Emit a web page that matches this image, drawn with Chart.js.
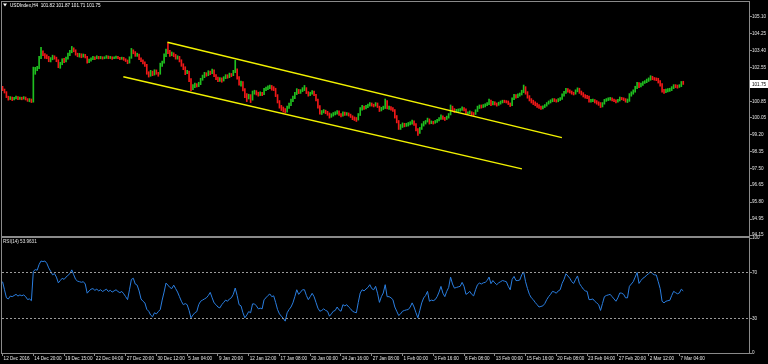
<!DOCTYPE html>
<html>
<head>
<meta charset="utf-8">
<script src="https://cdn.jsdelivr.net/npm/chart.js@4/dist/chart.umd.min.js"></script>
<style>
  html, body { margin: 0; padding: 0; background: #000; width: 768px; height: 364px; overflow: hidden; }
  #priceChart { position: absolute; left: 0; top: 0; }
  #rsiChart { position: absolute; left: 0; top: 229px; }
</style>
</head>
<body>
<canvas id="priceChart" width="768" height="240"></canvas>
<canvas id="rsiChart" width="768" height="135"></canvas>
<script>
// USDIndex H4, one entry per bar, bar 0 = 12 Dec 2016
const timeLabels = ["12 Dec 2016", "14 Dec 20:00", "19 Dec 15:00", "22 Dec 04:00", "27 Dec 20:00", "30 Dec 12:00",
  "5 Jan 04:00", "9 Jan 20:00", "12 Jan 12:00", "17 Jan 08:00", "20 Jan 00:00", "24 Jan 16:00", "27 Jan 08:00",
  "1 Feb 00:00", "3 Feb 16:00", "8 Feb 08:00", "13 Feb 00:00", "15 Feb 16:00", "20 Feb 08:00", "23 Feb 04:00",
  "27 Feb 20:00", "2 Mar 12:00", "7 Mar 04:00"];
const barsPerLabel = 16;
const priceTicks = [105.10, 104.25, 103.40, 102.55, 100.85, 100.05, 99.20, 98.35, 97.50, 96.65, 95.80, 94.95, 94.15];
const rsiTicks = [100, 70, 30, 0];
const rsiLevels = [70, 30];

const firstOpen = 101.58;
const closes = [
  101.45, 101.32, 101.10, 100.98, 101.05, 100.96, 101.02, 101.08, 100.99, 101.04,
  101.00, 101.06, 100.97, 100.92, 100.95, 100.85, 102.30, 102.45, 102.55, 103.05,
  103.35, 103.22, 103.15, 103.08, 102.92, 102.98, 103.12, 103.05, 102.90, 102.62,
  102.75, 102.95, 102.88, 103.00, 103.20, 103.35, 103.50, 103.42, 103.22, 103.15,
  103.20, 103.12, 103.18, 103.10, 102.85, 102.92, 103.00, 103.08, 103.02, 103.10,
  103.05, 103.08, 103.03, 103.06, 103.12, 103.05, 103.08, 103.02, 103.06, 103.10,
  103.04, 103.00, 103.05, 102.98, 102.90, 102.80, 103.05, 103.40, 103.32, 103.18,
  103.22, 103.02, 102.92, 102.80, 102.70, 102.30, 102.18, 102.35, 102.22, 102.40,
  102.28, 102.25, 102.70, 102.82, 103.15, 103.40, 103.35, 103.20, 103.28, 103.18,
  103.05, 103.10, 102.90, 102.70, 102.55, 102.30, 102.35, 101.95, 101.50, 101.62,
  101.70, 101.65, 101.75, 101.95, 102.10, 102.25, 102.20, 102.35, 102.28, 102.42,
  102.15, 102.05, 101.92, 102.00, 101.90, 102.05, 102.15, 102.10, 102.22, 102.18,
  102.35, 102.45, 102.05, 101.75, 101.80, 101.45, 101.20, 101.05, 101.15, 100.95,
  101.30, 101.35, 101.25, 101.20, 101.28, 101.22, 101.45, 101.50, 101.58, 101.62,
  101.52, 101.50, 101.15, 100.85, 100.60, 100.50, 100.40, 100.35, 100.55, 100.70,
  100.90, 101.05, 101.25, 101.42, 101.30, 101.38, 101.48, 101.50, 101.30, 101.20,
  101.28, 101.35, 101.20, 100.95, 100.60, 100.30, 100.32, 100.38, 100.30, 100.25,
  100.10, 100.18, 100.25, 100.28, 100.35, 100.22, 100.15, 100.28, 100.22, 100.25,
  100.18, 100.10, 100.02, 99.98, 99.95, 100.20, 100.48, 100.58, 100.52, 100.60,
  100.65, 100.75, 100.68, 100.65, 100.75, 100.60, 100.40, 100.50, 100.55, 100.85,
  100.55, 100.55, 100.50, 100.42, 100.10, 99.85, 99.55, 99.62, 99.70, 99.68,
  99.70, 99.72, 99.78, 99.85, 99.72, 99.45, 99.28, 99.48, 99.68, 99.78,
  99.85, 99.95, 99.78, 99.82, 99.80, 99.84, 99.90, 100.00, 100.12, 100.02,
  99.98, 100.08, 100.20, 100.58, 100.45, 100.38, 100.40, 100.42, 100.44, 100.52,
  100.45, 100.25, 100.28, 100.32, 100.25, 100.22, 100.38, 100.55, 100.62, 100.60,
  100.65, 100.68, 100.75, 100.90, 100.72, 100.80, 100.74, 100.70, 100.76, 100.82,
  100.88, 100.86, 100.84, 100.75, 100.68, 100.98, 101.15, 101.10, 101.18, 101.22,
  101.35, 101.55, 101.30, 101.10, 100.95, 100.85, 100.80, 100.72, 100.65, 100.58,
  100.55, 100.58, 100.65, 100.75, 100.82, 100.88, 100.95, 100.92, 100.88, 100.95,
  101.00, 101.18, 101.30, 101.45, 101.40, 101.35, 101.28, 101.25, 101.38, 101.48,
  101.32, 101.25, 101.15, 101.10, 101.08, 100.88, 100.90, 100.92, 100.85, 100.80,
  100.75, 100.62, 100.75, 100.90, 100.95, 100.98, 101.00, 100.95, 100.90, 100.85,
  100.92, 101.02, 101.00, 100.98, 100.90, 100.90, 101.18, 101.28, 101.38, 101.55,
  101.75, 101.60, 101.72, 101.80, 101.85, 101.92, 101.98, 102.08, 102.02, 102.00,
  101.98, 101.85, 101.70, 101.40, 101.35, 101.40, 101.42, 101.44, 101.55, 101.65,
  101.62, 101.60, 101.64, 101.82, 101.75
];
const highs = [
  101.62, 101.48, 101.35, 101.12, 101.10, 101.08, 101.06, 101.12, 101.10, 101.08,
  101.07, 101.10, 101.08, 101.00, 101.00, 100.98, 102.58, 102.57, 102.62, 103.12,
  103.58, 103.40, 103.26, 103.20, 103.12, 103.06, 103.18, 103.15, 103.08, 102.95,
  102.82, 103.00, 103.02, 103.08, 103.28, 103.42, 103.62, 103.55, 103.45, 103.28,
  103.27, 103.25, 103.24, 103.22, 103.12, 102.98, 103.05, 103.12, 103.10, 103.15,
  103.12, 103.12, 103.10, 103.10, 103.16, 103.14, 103.12, 103.10, 103.10, 103.14,
  103.12, 103.07, 103.08, 103.07, 103.00, 102.94, 103.10, 103.52, 103.45, 103.36,
  103.28, 103.24, 103.05, 102.95, 102.84, 102.72, 102.35, 102.42, 102.38, 102.45,
  102.44, 102.32, 102.78, 102.88, 103.25, 103.48, 103.78, 103.42, 103.34, 103.30,
  103.22, 103.15, 103.12, 102.95, 102.75, 102.60, 102.42, 102.38, 102.00, 101.70,
  101.78, 101.75, 101.82, 102.02, 102.18, 102.32, 102.30, 102.40, 102.38, 102.48,
  102.45, 102.20, 102.08, 102.05, 102.04, 102.10, 102.20, 102.20, 102.28, 102.26,
  102.42, 102.92, 102.50, 102.10, 101.88, 101.85, 101.50, 101.25, 101.22, 101.20,
  101.38, 101.42, 101.40, 101.32, 101.34, 101.32, 101.52, 101.58, 101.64, 101.68,
  101.66, 101.60, 101.52, 101.20, 100.90, 100.66, 100.58, 100.50, 100.62, 100.78,
  100.98, 101.12, 101.32, 101.50, 101.46, 101.45, 101.55, 101.66, 101.55, 101.35,
  101.32, 101.40, 101.38, 101.22, 100.98, 100.65, 100.40, 100.45, 100.42, 100.36,
  100.28, 100.24, 100.30, 100.34, 100.40, 100.38, 100.25, 100.34, 100.32, 100.30,
  100.28, 100.22, 100.14, 100.08, 100.05, 100.25, 100.55, 100.66, 100.62, 100.66,
  100.72, 100.80, 100.78, 100.72, 100.80, 100.78, 100.62, 100.56, 100.62, 100.98,
  100.90, 100.62, 100.60, 100.55, 100.45, 100.15, 99.90, 99.70, 99.78, 99.76,
  99.76, 99.80, 99.84, 99.92, 99.88, 99.75, 99.50, 99.55, 99.74, 99.85,
  99.90, 100.02, 99.98, 99.88, 99.86, 99.90, 99.96, 100.05, 100.18, 100.14,
  100.06, 100.12, 100.25, 100.68, 100.62, 100.50, 100.46, 100.48, 100.50, 100.58,
  100.55, 100.48, 100.34, 100.38, 100.34, 100.30, 100.44, 100.62, 100.68, 100.68,
  100.70, 100.74, 100.80, 100.98, 100.92, 100.86, 100.84, 100.78, 100.82, 100.88,
  100.92, 100.92, 100.90, 100.88, 100.78, 101.04, 101.22, 101.20, 101.24, 101.28,
  101.42, 101.68, 101.60, 101.35, 101.15, 101.00, 100.92, 100.84, 100.78, 100.70,
  100.62, 100.64, 100.70, 100.80, 100.88, 100.94, 101.00, 101.00, 100.95, 101.00,
  101.05, 101.24, 101.36, 101.52, 101.50, 101.44, 101.38, 101.32, 101.44, 101.54,
  101.52, 101.38, 101.30, 101.20, 101.16, 101.12, 100.96, 100.98, 100.95, 100.90,
  100.84, 100.80, 100.80, 100.96, 101.00, 101.04, 101.06, 101.04, 100.98, 100.94,
  100.96, 101.08, 101.06, 101.04, 101.00, 100.98, 101.25, 101.34, 101.44, 101.62,
  101.82, 101.80, 101.78, 101.86, 101.90, 101.98, 102.04, 102.15, 102.12, 102.06,
  102.04, 102.02, 101.90, 101.75, 101.46, 101.48, 101.50, 101.52, 101.60, 101.70,
  101.70, 101.68, 101.70, 101.86, 101.87
];
const lows = [
  101.40, 101.28, 101.05, 100.92, 100.95, 100.90, 100.93, 100.98, 100.95, 100.96,
  100.94, 100.97, 100.93, 100.86, 100.84, 100.80, 100.82, 102.22, 102.40, 102.50,
  103.00, 103.15, 103.02, 103.00, 102.85, 102.84, 102.95, 102.98, 102.85, 102.55,
  102.52, 102.70, 102.80, 102.84, 102.98, 103.15, 103.30, 103.35, 103.18, 103.10,
  103.08, 103.05, 103.08, 103.04, 102.78, 102.80, 102.88, 102.95, 102.96, 103.00,
  102.99, 103.00, 102.98, 103.00, 103.02, 103.00, 103.01, 102.97, 103.00, 103.02,
  103.00, 102.95, 102.97, 102.92, 102.86, 102.75, 102.78, 103.02, 103.25, 103.12,
  103.12, 102.95, 102.85, 102.74, 102.62, 102.22, 102.08, 102.12, 102.15, 102.18,
  102.22, 102.12, 102.22, 102.62, 102.78, 103.10, 103.25, 103.12, 103.15, 103.10,
  102.98, 102.98, 102.84, 102.62, 102.45, 102.20, 102.25, 101.85, 101.40, 101.45,
  101.55, 101.58, 101.60, 101.70, 101.92, 102.05, 102.12, 102.15, 102.20, 102.25,
  102.10, 101.95, 101.85, 101.86, 101.82, 101.88, 102.00, 102.02, 102.05, 102.10,
  102.15, 102.30, 101.98, 101.68, 101.62, 101.38, 101.05, 100.85, 100.98, 100.80,
  100.92, 101.22, 101.18, 101.12, 101.15, 101.15, 101.20, 101.40, 101.45, 101.50,
  101.42, 101.40, 101.10, 100.78, 100.52, 100.40, 100.32, 100.28, 100.32, 100.50,
  100.65, 100.85, 101.00, 101.20, 101.25, 101.26, 101.35, 101.40, 101.25, 101.12,
  101.15, 101.22, 101.15, 100.88, 100.52, 100.22, 100.20, 100.28, 100.24, 100.16,
  100.02, 100.06, 100.12, 100.18, 100.22, 100.15, 100.08, 100.12, 100.15, 100.16,
  100.12, 100.05, 99.94, 99.90, 99.85, 99.92, 100.15, 100.42, 100.45, 100.48,
  100.55, 100.62, 100.62, 100.58, 100.62, 100.55, 100.35, 100.38, 100.45, 100.50,
  100.48, 100.45, 100.42, 100.35, 100.02, 99.78, 99.45, 99.45, 99.55, 99.58,
  99.60, 99.62, 99.68, 99.72, 99.65, 99.38, 99.15, 99.25, 99.45, 99.62,
  99.72, 99.82, 99.72, 99.74, 99.72, 99.76, 99.80, 99.88, 99.95, 99.95,
  99.90, 99.95, 100.02, 100.18, 100.38, 100.30, 100.32, 100.35, 100.36, 100.40,
  100.38, 100.20, 100.20, 100.24, 100.18, 100.15, 100.20, 100.35, 100.50, 100.52,
  100.55, 100.58, 100.64, 100.70, 100.65, 100.68, 100.68, 100.62, 100.66, 100.72,
  100.78, 100.80, 100.78, 100.70, 100.60, 100.65, 100.95, 101.02, 101.05, 101.12,
  101.18, 101.30, 101.22, 101.02, 100.88, 100.78, 100.70, 100.64, 100.56, 100.50,
  100.45, 100.48, 100.55, 100.62, 100.72, 100.78, 100.84, 100.85, 100.82, 100.84,
  100.90, 100.96, 101.12, 101.26, 101.32, 101.28, 101.22, 101.18, 101.22, 101.34,
  101.26, 101.18, 101.08, 101.02, 101.00, 100.82, 100.82, 100.85, 100.78, 100.72,
  100.66, 100.55, 100.58, 100.72, 100.86, 100.90, 100.92, 100.88, 100.84, 100.78,
  100.82, 100.88, 100.94, 100.90, 100.82, 100.80, 100.86, 101.12, 101.22, 101.32,
  101.50, 101.55, 101.58, 101.66, 101.76, 101.80, 101.86, 101.92, 101.95, 101.92,
  101.90, 101.78, 101.62, 101.32, 101.26, 101.30, 101.34, 101.36, 101.40, 101.50,
  101.55, 101.52, 101.56, 101.60, 101.71
];
const rsi = [
  62, 55, 48, 47, 49.5, 49, 50, 51, 49.5, 50.5,
  49.8, 50.5, 49, 46.5, 47, 45.5, 71, 72.5, 72, 77,
  80, 79.5, 80, 78, 74, 71, 68, 69, 66, 61,
  63, 65, 64, 66, 67.5, 69, 72.3, 68, 64, 62.5,
  62, 61.5, 62, 60, 52, 54, 55.5, 56, 54.5, 55.5,
  54, 55, 53.5, 54.5, 55.5, 53.5, 54.5, 53, 54, 55,
  53.5, 52.5, 53.5, 51.5, 49, 46.4, 55, 64, 65, 60,
  59, 54, 47, 45, 43.6, 38, 36.3, 33, 31.5, 35,
  34, 36, 37.8, 46, 53, 60.8, 59, 57, 56, 59,
  56, 53, 49, 45, 42, 43, 42, 37, 30.6, 33,
  35, 36, 42, 45, 46, 47, 48, 50, 52.7, 48,
  43.6, 42, 40, 39.2, 42, 44, 46, 45, 47, 48,
  51, 56.5, 50, 42, 41, 35, 30.6, 33, 36, 35,
  42.7, 42.7, 41, 38.4, 39, 38.4, 46.4, 48, 50, 51.3,
  49, 49.7, 44, 37.8, 34, 32, 30, 27.7, 35, 37.8,
  40, 43.6, 49, 55, 51, 53, 55, 55, 50, 46.4,
  49, 51.9, 49, 44, 39, 36.3, 37, 38.4, 37, 36.3,
  32, 34, 36.3, 37, 40, 37.5, 36.3, 42, 41, 42,
  40, 38.4, 36.3, 35.5, 35, 44, 52.2, 55, 54, 55.6,
  57, 59.4, 56, 55, 58, 52, 44, 49, 52.2, 59.4,
  49, 49, 48, 46.4, 40, 36.3, 32.6, 34, 36.3, 37,
  37.5, 37.8, 40, 43.6, 40, 35, 30.6, 37, 43.6, 47.9,
  50, 53.6, 45, 46, 45.5, 46.4, 49, 53, 57.9, 52,
  49, 53.6, 57, 66, 60, 56.4, 57, 57.5, 58, 61.4,
  58, 51, 52, 53.6, 51, 49.7, 55, 59.4, 60.8, 60,
  61, 61.4, 63, 66, 60.3, 63, 61, 59.4, 61, 62,
  63, 62.5, 62, 58, 55, 64, 66.6, 63, 63, 63.5,
  68, 70.5, 62, 56, 51, 48, 46.4, 44, 42, 40,
  40.5, 41, 43, 46.4, 49, 51, 53.6, 53, 52, 54,
  55, 60.5, 64, 68.9, 67, 65, 62, 60.5, 64, 67,
  60.5, 58, 55.6, 54, 53.6, 46.4, 46.5, 47, 45, 43.6,
  42, 37, 43, 49, 50, 50.5, 51, 49, 47, 45,
  48, 52.2, 52, 51, 48, 48, 58, 60, 62, 66,
  70, 60.5, 63, 65, 66, 67.8, 69, 70.6, 68.9, 68,
  67.8, 62, 56, 45, 43.6, 45, 45.5, 45.8, 50, 53.6,
  52.5, 51.5, 52.2, 55.5, 53.9631
];

// trend channel anchors: [bar, price]
const upperChannel = [[85.7, 103.83], [290.9, 99.04]];
const lowerChannel = [[62.8, 102.10], [270.1, 97.47]];

const GREEN = '#1fbf1f';
const RED = '#f01818';
const FRAME = '#8a8a8a';
const TEXT = '#e4e4e4';
const FONT = '"Liberation Sans", Arial, sans-serif';

Chart.defaults.font.family = FONT;
Chart.defaults.font.size = 4.6;
Chart.defaults.color = TEXT;

const opens = closes.map((c, i) => (i ? closes[i - 1] : firstOpen));
const xRange = { type: 'linear', min: -0.3, max: 388.2, offset: false, grid: { offset: false } };

const frame = {
  id: 'frame',
  afterDraw(chart) {
    const { ctx, chartArea: a } = chart;
    ctx.save();
    ctx.strokeStyle = FRAME;
    ctx.lineWidth = 1;
    ctx.strokeRect(a.left - 0.5, a.top - 0.5, a.right - a.left + 1, a.bottom - a.top + 1);
    ctx.restore();
  }
};

const priceHeader = {
  id: 'priceHeader',
  afterDraw(chart) {
    const { ctx, chartArea: a, scales } = chart;
    const n = closes.length - 1;
    ctx.save();
    ctx.font = '4.6px ' + FONT;
    ctx.textBaseline = 'middle';
    // symbol line top left
    ctx.fillStyle = '#fff';
    ctx.beginPath();
    ctx.moveTo(3, 3.5); ctx.lineTo(7, 3.5); ctx.lineTo(5, 6.5); ctx.closePath();
    ctx.fill();
    ctx.fillText('USDIndex,H4  ' + [opens[n], highs[n], lows[n], closes[n]].map(v => v.toFixed(2)).join(' '), 10, 5.5);
    // last price tag on the axis
    const y = Math.round(scales.y.getPixelForValue(closes[n]));
    ctx.fillRect(a.right + 1, y - 4, 18, 8);
    ctx.fillStyle = '#000';
    ctx.fillText(closes[n].toFixed(2), a.right + 3, y + 0.5);
    ctx.restore();
  }
};

const rsiHeader = {
  id: 'rsiHeader',
  afterDraw(chart) {
    const { ctx, chartArea: a } = chart;
    ctx.save();
    ctx.font = '4.6px ' + FONT;
    ctx.textBaseline = 'middle';
    ctx.fillStyle = TEXT;
    ctx.fillText('RSI(14) ' + rsi[rsi.length - 1].toFixed(4), 3, a.top + 4);
    ctx.restore();
  }
};

new Chart(document.getElementById('priceChart'), {
  type: 'bar',
  data: {
    datasets: [
      {
        type: 'line',
        data: upperChannel.map(p => ({ x: p[0], y: p[1] })),
        borderColor: '#f2f200',
        borderWidth: 1.5,
        pointRadius: 0,
        order: 0
      },
      {
        type: 'line',
        data: lowerChannel.map(p => ({ x: p[0], y: p[1] })),
        borderColor: '#f2f200',
        borderWidth: 1.5,
        pointRadius: 0,
        order: 0
      },
      {
        type: 'bar',
        data: closes.map((c, i) => ({ x: i, y: [lows[i], highs[i]] })),
        backgroundColor: closes.map((c, i) => (c >= opens[i] ? GREEN : RED)),
        barThickness: 1,
        order: 1
      }
    ]
  },
  options: {
    responsive: false,
    animation: false,
    devicePixelRatio: 1,
    layout: { padding: { left: 2, top: 2, right: 0, bottom: 4 } },
    plugins: { legend: { display: false }, tooltip: { enabled: false } },
    scales: {
      x: { ...xRange, display: false },
      y: {
        position: 'right',
        min: 94.10,
        max: 105.85,
        afterBuildTicks: (s) => { s.ticks = priceTicks.map(v => ({ value: v })); },
        afterFit: (s) => { s.width = 19; s.paddingTop = 0; s.paddingBottom = 0; },
        grid: { drawOnChartArea: false, color: FRAME, tickLength: 3 },
        border: { display: false },
        ticks: { padding: 0, color: TEXT, callback: v => v.toFixed(2) }
      }
    }
  },
  plugins: [frame, priceHeader]
});

new Chart(document.getElementById('rsiChart'), {
  type: 'line',
  data: {
    datasets: [
      ...rsiLevels.map(level => ({
        data: [{ x: xRange.min, y: level }, { x: xRange.max, y: level }],
        borderColor: '#9a9a9a',
        borderWidth: 1,
        borderDash: [2, 2],
        pointRadius: 0
      })),
      {
        data: rsi.map((v, i) => ({ x: i, y: v })),
        borderColor: '#2a7ee0',
        borderWidth: 1,
        pointRadius: 0,
        tension: 0
      }
    ]
  },
  options: {
    responsive: false,
    animation: false,
    devicePixelRatio: 1,
    layout: { padding: { left: 2, top: 9, right: 0, bottom: 0 } },
    plugins: { legend: { display: false }, tooltip: { enabled: false } },
    scales: {
      x: {
        ...xRange,
        afterBuildTicks: (s) => { s.ticks = timeLabels.map((t, k) => ({ value: k * barsPerLabel })); },
        afterFit: (s) => { s.height = 11; s.paddingLeft = 0; s.paddingRight = 0; },
        grid: { drawOnChartArea: false, color: FRAME, tickLength: 3 },
        border: { display: false },
        ticks: {
          autoSkip: false, maxRotation: 0, minRotation: 0, align: 'start',
          labelOffset: 1, padding: 0, color: TEXT,
          callback: (v, idx) => timeLabels[idx]
        }
      },
      y: {
        position: 'right',
        min: 0,
        max: 100,
        afterBuildTicks: (s) => { s.ticks = rsiTicks.map(v => ({ value: v })); },
        afterFit: (s) => { s.width = 19; s.paddingTop = 0; s.paddingBottom = 0; },
        grid: { drawOnChartArea: false, color: FRAME, tickLength: 3 },
        border: { display: false },
        ticks: { padding: 0, color: TEXT, callback: v => String(v) }
      }
    }
  },
  plugins: [frame, rsiHeader]
});
</script>
</body>
</html>
